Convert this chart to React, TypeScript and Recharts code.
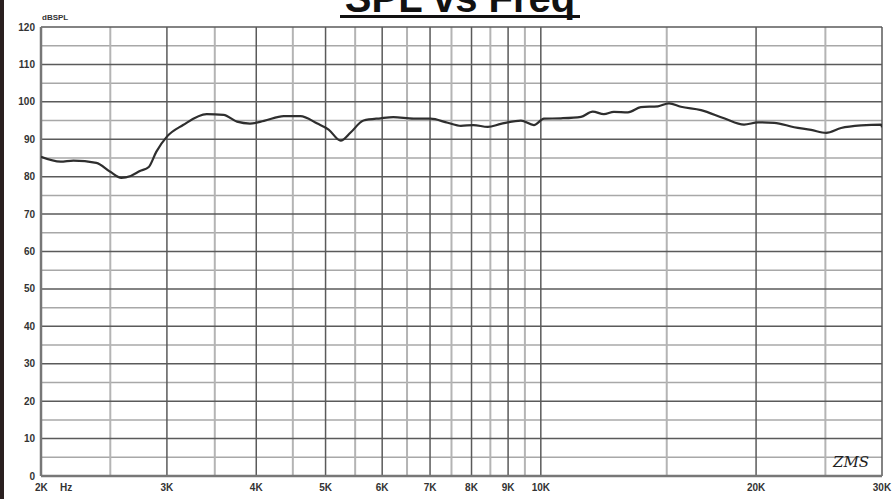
import { LineChart, Line, XAxis, YAxis, ReferenceLine } from "recharts";

const freqs = [
  2000, 2130, 2220, 2390, 2500, 2590, 2670, 2750, 2830, 2900, 3000, 3160,
  3410, 3600, 3760, 3920, 4100, 4370, 4610, 4870, 5050, 5250, 5420, 5650,
  5970, 6220, 6640, 7010, 7410, 7730, 8050, 8430, 8790, 9380, 9780, 10100,
  10670, 11380, 11820, 12250, 12650, 13240, 13800, 14580, 15110, 15700,
  16750, 18040, 19240, 20130, 21200, 22610, 23880, 25060, 26300, 28060,
  29920, 30000,
];
const spl = [
  85.3, 84.0, 84.3, 83.7, 81.3, 79.7, 80.2, 81.5, 82.6, 86.7, 90.7, 93.8,
  96.7, 96.5, 94.7, 94.2, 94.9, 96.2, 96.2, 94.2, 92.6, 89.6, 91.8, 95.0,
  95.6, 95.9, 95.5, 95.5, 94.4, 93.6, 93.8, 93.3, 94.1, 95.0, 93.8, 95.5,
  95.6, 96.0, 97.4, 96.7, 97.3, 97.2, 98.6, 98.8, 99.6, 98.7, 97.8, 95.6,
  93.9, 94.5, 94.4, 93.2, 92.5, 91.7, 93.0, 93.7, 93.9, 93.2,
];

const majorFreqs = [2000, 3000, 4000, 5000, 6000, 7000, 8000, 9000, 10000, 20000, 30000];
const xLabels = ["2K", "3K", "4K", "5K", "6K", "7K", "8K", "9K", "10K", "20K", "30K"];
const minorFreqs = [2500, 3500, 4500, 5500, 6500, 7500, 8500, 9500, 15000, 25000];
const majorLevels = [0, 10, 20, 30, 40, 50, 60, 70, 80, 90, 100, 110, 120];
const minorLevels = [5, 15, 25, 35, 45, 55, 65, 75, 85, 95, 105, 115];

const data = freqs.map((f, i) => ({ freq: f, spl: spl[i] }));

const FONT = "'Liberation Sans', Arial, sans-serif";

const XTick = (props: any) => {
  const { x, y, payload, index } = props;
  const label = xLabels[majorFreqs.indexOf(payload.value)];
  const common = {
    y,
    dy: "0.71em",
    fontFamily: FONT,
    fontSize: 10,
    fontWeight: "bold",
    fill: "#333",
  };
  if (index === 0) {
    return (
      <g>
        <text x={x - 6} textAnchor="start" {...common}>{label}</text>
        <text x={x + 19} textAnchor="start" {...common}>Hz</text>
      </g>
    );
  }
  return (
    <text x={x} textAnchor="middle" {...common}>
      {label}
    </text>
  );
};

export default function App() {
  return (
    <div style={{ position: "relative", width: 894, height: 499, background: "#fff", overflow: "hidden" }}>
      <style>{"body{margin:0}"}</style>
      <LineChart
        width={894}
        height={499}
        data={data}
        margin={{ top: 27, right: 12, bottom: 0, left: 0 }}
      >
        <XAxis
          dataKey="freq"
          type="number"
          scale="log"
          domain={[2000, 30000]}
          ticks={majorFreqs}
          allowDataOverflow
          axisLine={false}
          tickLine={false}
          tickSize={4}
          tickMargin={4}
          height={23}
          tick={<XTick />}
          interval={0}
        />
        <YAxis
          type="number"
          domain={[0, 120]}
          ticks={majorLevels}
          axisLine={false}
          tickLine={false}
          tickSize={4}
          tickMargin={2}
          width={41}
          interval={0}
          tick={{ fill: "#333", fontSize: 10, fontWeight: "bold", fontFamily: FONT }}
        />
        {minorLevels.map((v) => (
          <ReferenceLine key={"hy" + v} y={v} stroke="#a8a8a8" strokeWidth={1.5} />
        ))}
        {minorFreqs.map((f) => (
          <ReferenceLine key={"vx" + f} x={f} stroke="#b4b4b4" strokeWidth={2} />
        ))}
        {majorLevels.map((v) => (
          <ReferenceLine key={"my" + v} y={v} stroke="#5a5a5a" strokeWidth={1.5} />
        ))}
        {majorFreqs.map((f) => (
          <ReferenceLine key={"mx" + f} x={f} stroke="#5a5a5a" strokeWidth={1.5} />
        ))}
        <ReferenceLine x={2000} stroke="#777" strokeWidth={2.5} />
        <ReferenceLine y={0} stroke="#777" strokeWidth={2.5} />
        <Line
          type="monotone"
          dataKey="spl"
          stroke="#2e2e2e"
          strokeWidth={2.2}
          dot={false}
          isAnimationActive={false}
        />
      </LineChart>
      <svg
        width={894}
        height={499}
        style={{ position: "absolute", left: 0, top: 0, pointerEvents: "none" }}
      >
        <rect x={0} y={0} width={4} height={499} fill="#2a2020" />
        <text x={460} y={12} textAnchor="middle" fontFamily={FONT} fontSize={40} fontWeight="bold" fill="#111">
          SPL vs Freq
        </text>
        <line x1={340} x2={580} y1={16.5} y2={16.5} stroke="#111" strokeWidth={3} />
        <text x={42} y={20} fontFamily={FONT} fontSize={8} fontWeight="bold" fill="#333">
          dBSPL
        </text>
        <text x={833} y={467} fontFamily="'DejaVu Serif', serif" fontStyle="italic" fontSize={15} fill="#222">
          ZMS
        </text>
      </svg>
    </div>
  );
}
